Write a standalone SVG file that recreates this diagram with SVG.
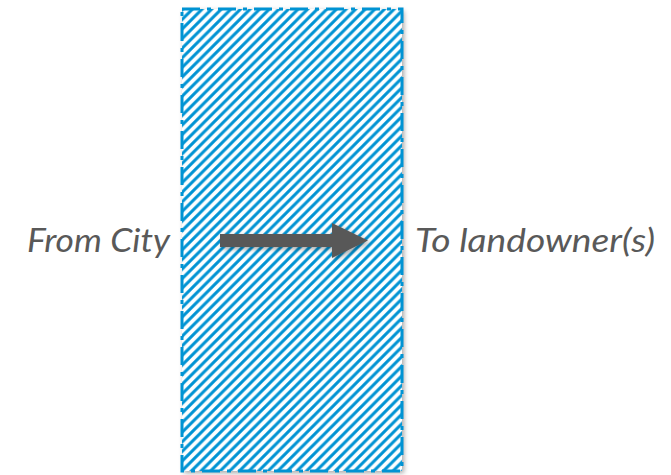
<svg xmlns="http://www.w3.org/2000/svg" width="671" height="475" viewBox="0 0 671 475">
<style>
.lbl{font-family:Lato,"Open Sans","Liberation Sans",sans-serif;font-style:italic;font-size:32px;fill:#595959}
</style>
<defs>
<pattern id="hatch" patternUnits="userSpaceOnUse" x="0" y="0" width="9.6" height="9.6">
<path d="M-2.4,2.4 L2.4,-2.4 M0,9.6 L9.6,0 M7.2,12 L12,7.2" stroke="#0093D3" stroke-width="3"/>
</pattern>
<filter id="shadow" x="-10%" y="-10%" width="130%" height="130%">
<feDropShadow dx="2" dy="2" stdDeviation="2.5" flood-color="#000" flood-opacity="0.35"/>
</filter>
</defs>
<g id="zone">
<rect x="182" y="9" width="220" height="462" fill="#fff" filter="url(#shadow)"/>
<rect x="182" y="9" width="220" height="462" fill="url(#hatch)" stroke="#0093D3" stroke-width="3" stroke-dasharray="18 7 4 7"/>
</g>
<g id="connectors">
<path d="M220,234 H332 V223 L368,240.5 L332,258 V247 H220 Z" fill="#595959" filter="url(#shadow)"/>
</g>
<g id="from">
<text class="lbl" x="27" y="252" textLength="143" lengthAdjust="spacingAndGlyphs">From City</text>
</g>
<g id="to">
<text class="lbl" x="415" y="252" textLength="240" lengthAdjust="spacingAndGlyphs">To landowner(s)</text>
</g>
</svg>
